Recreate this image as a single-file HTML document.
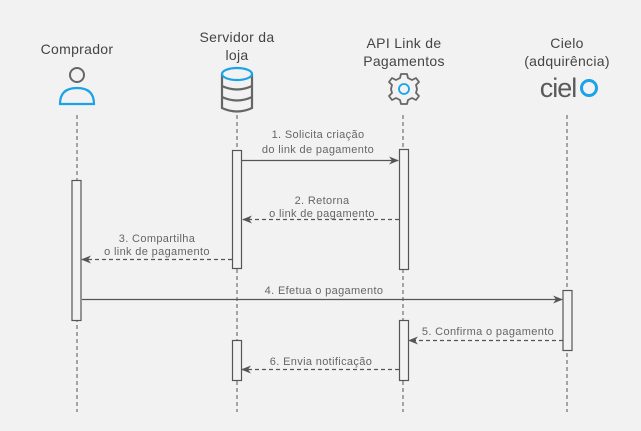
<!DOCTYPE html>
<html><head><meta charset="utf-8"><style>
html,body{margin:0;padding:0;background:#f1f2f1;}
svg{display:block;font-family:"Liberation Sans",sans-serif;}
</style></head><body>
<svg width="641" height="431" viewBox="0 0 641 431" xmlns="http://www.w3.org/2000/svg">
<defs>
<marker id="a" markerWidth="10" markerHeight="8" refX="9" refY="4" orient="auto" markerUnits="userSpaceOnUse"><path d="M0,0 L10,4 L0,8 L3,4 Z" fill="#555"/></marker>
</defs>
<rect width="641" height="431" fill="#f1f2f1"/>
<g font-size="14" fill="#444" text-anchor="middle" letter-spacing="0.3">
<text x="77" y="54">Comprador</text>
<text x="237" y="42">Servidor da</text>
<text x="237" y="60">loja</text>
<text x="404" y="48">API Link de</text>
<text x="404" y="66">Pagamentos</text>
<text x="567" y="48">Cielo</text>
<text x="567" y="66">(adquirência)</text>
</g>
<!-- person -->
<circle cx="77" cy="75" r="7" fill="none" stroke="#666" stroke-width="2"/>
<path d="M60,104 Q60,88 77,88 Q94,88 94,104 Z" fill="none" stroke="#1aa3e8" stroke-width="2.2"/>
<!-- database -->
<g fill="none" stroke-width="2.2">
<path d="M222,74 V108 Q237,115 252,108 V74" stroke="#666"/>
<path d="M222,86 Q237,93 252,86 M222,97 Q237,104 252,97" stroke="#666"/>
<ellipse cx="237" cy="74" rx="15" ry="6" stroke="#1aa3e8"/>
</g>
<!-- gear -->
<g transform="translate(404,89)" fill="none" stroke-width="1.8">
<path d="M-3,-15 H3 L4,-11 L8,-9 L12,-11 L15,-7 L12,-4 L13,0 L12,4 L15,7 L12,11 L8,9 L4,11 L3,15 H-3 L-4,11 L-8,9 L-12,11 L-15,7 L-12,4 L-13,0 L-12,-4 L-15,-7 L-12,-11 L-8,-9 L-4,-11 Z" stroke="#666" stroke-linejoin="round"/>
<circle r="5" stroke="#1aa3e8"/>
</g>
<!-- cielo logo -->
<text x="558" y="97" font-size="27" fill="#5a5a5a" text-anchor="middle" letter-spacing="-1">ciel</text>
<circle cx="589" cy="88" r="7.5" fill="none" stroke="#1aa3e8" stroke-width="3"/>
<!-- lifelines -->
<g stroke="#555" stroke-width="1" stroke-dasharray="4,3">
<line x1="77" y1="115" x2="77" y2="412"/>
<line x1="237" y1="115" x2="237" y2="412"/>
<line x1="403" y1="115" x2="403" y2="412"/>
<line x1="567" y1="115" x2="567" y2="412"/>
</g>
<!-- activations -->
<g fill="#f1f2f1" stroke="#555" stroke-width="1.2">
<rect x="72" y="180.5" width="9" height="140"/>
<rect x="232.5" y="150.5" width="9" height="118"/>
<rect x="232.5" y="340.5" width="9" height="40"/>
<rect x="399.5" y="149.5" width="9" height="120"/>
<rect x="399.5" y="320.5" width="9" height="60"/>
<rect x="563" y="290.5" width="9" height="60"/>
</g>
<!-- messages -->
<g stroke="#555" stroke-width="1.2" fill="none">
<line x1="242" y1="160.5" x2="398" y2="160.5" marker-end="url(#a)"/>
<line x1="399" y1="219.5" x2="243" y2="219.5" stroke-dasharray="4,3" marker-end="url(#a)"/>
<line x1="232" y1="259.5" x2="82" y2="259.5" stroke-dasharray="4,3" marker-end="url(#a)"/>
<line x1="82" y1="299.5" x2="562" y2="299.5" marker-end="url(#a)"/>
<line x1="563" y1="340.5" x2="409" y2="340.5" stroke-dasharray="4,3" marker-end="url(#a)"/>
<line x1="399" y1="369.5" x2="242" y2="369.5" stroke-dasharray="4,3" marker-end="url(#a)"/>
</g>
<g font-size="11" fill="#666" text-anchor="middle" letter-spacing="0.35">
<text x="318" y="138">1. Solicita criação</text>
<text x="318" y="153">do link de pagamento</text>
<text x="322" y="204">2. Retorna</text>
<text x="322" y="217">o link de pagamento</text>
<text x="157" y="242">3. Compartilha</text>
<text x="157" y="255">o link de pagamento</text>
<text x="324" y="294">4. Efetua o pagamento</text>
<text x="488" y="335">5. Confirma o pagamento</text>
<text x="321" y="365">6. Envia notificação</text>
</g>
</svg>
</body></html>
